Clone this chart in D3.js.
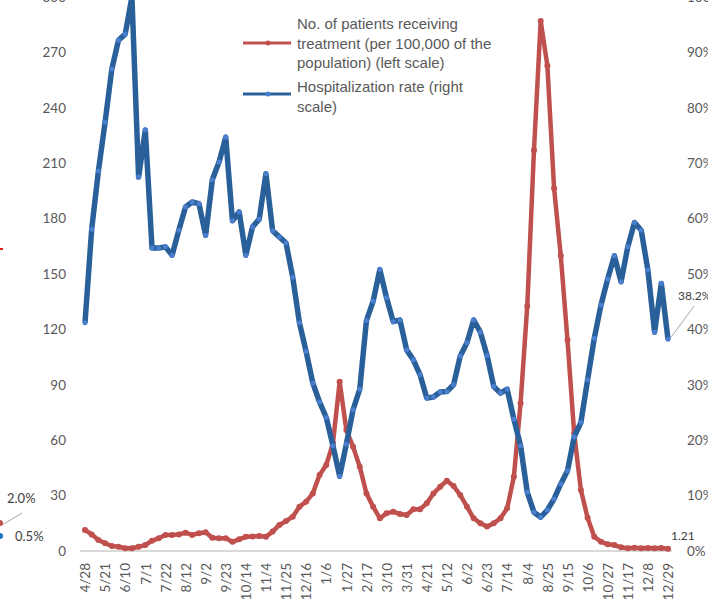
<!DOCTYPE html>
<html lang="en">
<head>
    <title>Patients receiving treatment and hospitalization rate</title>
    <script src="https://d3js.org/d3.v7.min.js"></script>
    <style>
        body { margin: 0; background: #fff; }
        svg { display: block; }
    </style>
</head>
<body>
<script>
    // x axis labels (every 3rd weekly point)
    const dateLabels = ["4/28","5/21","6/10","7/1","7/22","8/12","9/2","9/23","10/14","11/4",
        "11/25","12/16","1/6","1/27","2/17","3/10","3/31","4/21","5/12","6/2",
        "6/23","7/14","8/4","8/25","9/15","10/6","10/27","11/17","12/8","12/29"];

    // No. of patients receiving treatment (per 100,000) - left scale
    const patients = [11.4, 9.0, 6.0, 4.2, 2.7, 2.3, 1.5, 1.5, 2.3, 3.2,
        5.6, 6.9, 8.7, 8.7, 9.0, 9.9, 8.7, 9.6, 10.1, 7.2,
        6.9, 6.9, 5.0, 6.3, 7.7, 7.9, 8.1, 7.7, 10.5, 14.1,
        16.2, 18.6, 24.0, 26.7, 31.2, 41.2, 46.6, 58.3, 91.7, 65.5,
        56.5, 45.6, 31.2, 24.0, 17.7, 20.4, 21.3, 20.0, 19.5, 22.6,
        22.6, 25.8, 31.2, 34.8, 38.1, 35.2, 30.3, 24.0, 17.7, 15.0,
        13.2, 15.0, 17.7, 23.1, 40.2, 80.0, 132.7, 217.0, 287.0, 262.8,
        196.4, 159.9, 114.3, 63.7, 33.0, 18.0, 7.7, 5.0, 3.6, 3.2,
        2.0, 1.5, 1.8, 1.5, 1.6, 1.5, 1.6, 1.21];

    // Hospitalization rate (%) - right scale
    const hospRate = [41.2, 58.1, 68.6, 77.4, 87.0, 92.2, 93.3, 100.0, 67.5, 76.0,
        54.7, 54.7, 54.9, 53.4, 57.9, 62.1, 63.0, 62.7, 57.0, 67.0,
        70.2, 74.7, 59.6, 61.2, 53.4, 58.5, 59.9, 68.1, 57.8, 56.7,
        55.6, 49.4, 41.2, 36.0, 30.3, 26.9, 24.1, 19.0, 13.5, 19.3,
        25.5, 29.2, 41.6, 45.1, 50.8, 45.7, 41.4, 41.7, 36.3, 34.5,
        31.8, 27.6, 27.8, 28.7, 28.8, 30.0, 35.2, 37.6, 41.7, 39.5,
        35.3, 29.7, 28.5, 29.2, 23.8, 19.0, 10.6, 7.0, 6.1, 7.4,
        9.4, 12.1, 14.5, 20.6, 23.2, 30.9, 38.4, 44.4, 49.1, 53.3,
        48.6, 54.9, 59.3, 57.9, 50.7, 39.5, 48.3, 38.2];

    const leftTicks = [0, 30, 60, 90, 120, 150, 180, 210, 240, 270, 300];
    const rightTicks = [0, 10, 20, 30, 40, 50, 60, 70, 80, 90, 100];

    const width = 708;
    const height = 599;
    const redColor = "#c0504d";
    const blueColor = "#2a6099";
    const blueMarker = "#4a7fd0";
    const textColor = "#595959";

    const svg = d3.select("body")
        .append("svg")
        .attr("width", width)
        .attr("height", height);

    // scales
    const x = d3.scaleLinear().domain([0, patients.length - 1]).range([85, 668]);
    const yLeft = d3.scaleLinear().domain([0, 300]).range([551, -3]);
    const yRight = d3.scaleLinear().domain([0, 100]).range([551, -3]);

    // left axis
    const leftAxis = svg.append("g")
        .attr("transform", "translate(70,0)")
        .call(d3.axisLeft(yLeft).tickValues(leftTicks).tickSize(0).tickPadding(4));
    leftAxis.select(".domain").remove();

    // right axis
    const rightAxis = svg.append("g")
        .attr("transform", "translate(683,0)")
        .call(d3.axisRight(yRight).tickValues(rightTicks).tickSize(0).tickPadding(4)
            .tickFormat(d => d + "%"));
    rightAxis.select(".domain").remove();

    svg.selectAll("g.tick text")
        .style("font-family", "Lato, 'Open Sans', sans-serif")
        .style("font-size", "13.5px")
        .attr("fill", textColor);

    // baseline
    svg.append("line")
        .attr("x1", 80).attr("x2", 672)
        .attr("y1", yLeft(0)).attr("y2", yLeft(0))
        .attr("stroke", "#d9d9d9")
        .attr("stroke-width", 2);

    // bottom axis with rotated date labels
    const tickIdx = dateLabels.map((d, i) => i * 3);
    const bottomAxis = svg.append("g")
        .attr("transform", "translate(0," + yLeft(0) + ")")
        .call(d3.axisBottom(x).tickValues(tickIdx).tickSize(0)
            .tickFormat(d => dateLabels[d / 3]));
    bottomAxis.select(".domain").remove();
    bottomAxis.selectAll("text")
        .attr("transform", "rotate(-90)")
        .attr("x", -12)
        .attr("y", 0)
        .attr("dy", "0.35em")
        .style("text-anchor", "end")
        .style("font-family", "Lato, 'Open Sans', sans-serif")
        .style("font-size", "13.5px")
        .attr("fill", textColor);

    // patients line (left scale)
    svg.append("path")
        .datum(patients)
        .attr("fill", "none")
        .attr("stroke", redColor)
        .attr("stroke-width", 4.5)
        .attr("stroke-linejoin", "round")
        .attr("d", d3.line().x((d, i) => x(i)).y(d => yLeft(d)));

    svg.append("g")
        .selectAll("circle")
        .data(patients)
        .join("circle")
        .attr("cx", (d, i) => x(i))
        .attr("cy", d => yLeft(d))
        .attr("r", 3)
        .attr("fill", redColor);

    // hospitalization rate line (right scale)
    svg.append("path")
        .datum(hospRate)
        .attr("fill", "none")
        .attr("stroke", blueColor)
        .attr("stroke-width", 5.5)
        .attr("stroke-linejoin", "round")
        .attr("d", d3.line().x((d, i) => x(i)).y(d => yRight(d)));

    svg.append("g")
        .selectAll("circle")
        .data(hospRate)
        .join("circle")
        .attr("cx", (d, i) => x(i))
        .attr("cy", d => yRight(d))
        .attr("r", 2.5)
        .attr("fill", blueMarker);

    // data labels for last points
    const last = patients.length - 1;
    svg.append("line")
        .attr("x1", x(last) + 3).attr("y1", yRight(hospRate[last]) - 2)
        .attr("x2", 694).attr("y2", 306)
        .attr("stroke", "#a6a6a6").attr("stroke-width", 1);
    svg.append("text")
        .attr("x", 678).attr("y", 300)
        .style("font-family", "Lato, 'Open Sans', sans-serif")
        .style("font-size", "12px")
        .attr("fill", "#404040")
        .text(hospRate[last].toFixed(1) + "%");
    svg.append("text")
        .attr("x", 671).attr("y", 540)
        .style("font-family", "Lato, 'Open Sans', sans-serif")
        .style("font-size", "12px")
        .attr("fill", "#404040")
        .text(patients[last].toFixed(2));

    // fragments of neighbouring chart on the left edge
    svg.append("rect").attr("x", 0).attr("y", 248).attr("width", 3).attr("height", 2).attr("fill", "#e0201b");
    svg.append("line")
        .attr("x1", 2).attr("y1", 525).attr("x2", 22).attr("y2", 513)
        .attr("stroke", "#a6a6a6").attr("stroke-width", 1);
    svg.append("circle").attr("cx", 0).attr("cy", 523).attr("r", 3).attr("fill", redColor);
    svg.append("circle").attr("cx", 0).attr("cy", 536).attr("r", 3).attr("fill", "#1f6fc5");
    svg.append("text")
        .attr("x", 7).attr("y", 503)
        .style("font-family", "Lato, 'Open Sans', sans-serif")
        .style("font-size", "13px")
        .attr("fill", "#404040")
        .text("2.0%");
    svg.append("text")
        .attr("x", 15).attr("y", 541)
        .style("font-family", "Lato, 'Open Sans', sans-serif")
        .style("font-size", "13px")
        .attr("fill", "#404040")
        .text("0.5%");

    // legend
    const legend = svg.append("g")
        .style("font-family", "'Liberation Sans', Arial, sans-serif")
        .style("font-size", "15px")
        .attr("fill", textColor);

    const legendItems = [
        {color: redColor, marker: redColor, y: 43, lines: ["No. of patients receiving", "treatment (per 100,000 of the", "population) (left scale)"], textY: 29},
        {color: blueColor, marker: blueMarker, y: 94, lines: ["Hospitalization rate (right", "scale)"], textY: 92}
    ];

    legendItems.forEach(item => {
        legend.append("line")
            .attr("x1", 243).attr("x2", 291)
            .attr("y1", item.y).attr("y2", item.y)
            .attr("stroke", item.color)
            .attr("stroke-width", 3);
        legend.append("circle")
            .attr("cx", 268).attr("cy", item.y)
            .attr("r", 2.5)
            .attr("fill", item.marker);
        item.lines.forEach((t, j) => {
            legend.append("text")
                .attr("x", 297)
                .attr("y", item.textY + j * 19.7)
                .text(t);
        });
    });
</script>
</body>
</html>
